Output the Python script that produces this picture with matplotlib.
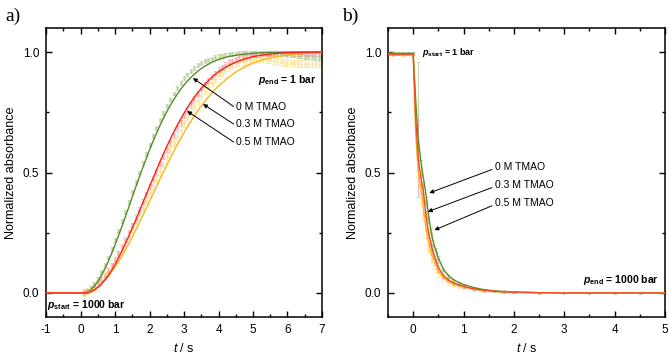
import numpy as np
import matplotlib
matplotlib.use("Agg")
import matplotlib.pyplot as plt
from matplotlib.ticker import MultipleLocator, FormatStrFormatter

plt.rcParams["font.family"] = ["Liberation Sans", "DejaVu Sans"]
plt.rcParams["axes.unicode_minus"] = False
plt.rcParams["mathtext.fontset"] = "custom"
plt.rcParams["mathtext.rm"] = "Liberation Sans"
plt.rcParams["mathtext.it"] = "Liberation Sans:italic"
plt.rcParams["mathtext.bf"] = "Liberation Sans:bold"
plt.rcParams["mathtext.bfit"] = "Liberation Sans:italic:bold"

# ---------------- panel a: 1000 bar -> 1 bar ----------------
t_data_a = np.round(np.arange(0.1, 7.05, 0.1), 2)

green_a = [0.002, 0.008, 0.02, 0.038, 0.06, 0.087, 0.115, 0.147, 0.182, 0.22,
           0.258, 0.297, 0.337, 0.378, 0.42, 0.46, 0.50, 0.54, 0.578, 0.615,
           0.65, 0.685, 0.717, 0.748, 0.776, 0.803, 0.828, 0.851, 0.872, 0.891,
           0.907, 0.922, 0.935, 0.946, 0.955, 0.962, 0.968, 0.973, 0.978, 0.982,
           0.985, 0.988, 0.99, 0.992, 0.994, 0.995, 0.996, 0.997, 0.997, 0.997,
           0.997, 0.996, 0.996, 0.995, 0.995, 0.994, 0.993, 0.992, 0.99, 0.989,
           0.987, 0.986, 0.984, 0.983, 0.981, 0.98, 0.979, 0.977, 0.976, 0.975]
red_a = [0.003, 0.008, 0.016, 0.027, 0.04, 0.055, 0.072, 0.092, 0.114, 0.138,
         0.164, 0.192, 0.221, 0.251, 0.282, 0.313, 0.345, 0.378, 0.41, 0.443,
         0.474, 0.505, 0.535, 0.565, 0.596, 0.626, 0.655, 0.683, 0.709, 0.735,
         0.76, 0.783, 0.806, 0.827, 0.847, 0.866, 0.883, 0.899, 0.913, 0.926,
         0.937, 0.947, 0.956, 0.963, 0.97, 0.975, 0.979, 0.983, 0.986, 0.988,
         0.99, 0.991, 0.992, 0.993, 0.994, 0.995, 0.995, 0.996, 0.996, 0.996,
         0.996, 0.995, 0.995, 0.994, 0.994, 0.993, 0.993, 0.992, 0.992, 0.991]
yellow_a = [0.002, 0.008, 0.016, 0.027, 0.04, 0.055, 0.072, 0.091, 0.112, 0.135,
            0.159, 0.184, 0.21, 0.237, 0.265, 0.294, 0.323, 0.353, 0.383, 0.413,
            0.444, 0.474, 0.505, 0.535, 0.565, 0.594, 0.623, 0.651, 0.678, 0.704,
            0.729, 0.753, 0.776, 0.798, 0.818, 0.838, 0.856, 0.873, 0.889, 0.903,
            0.915, 0.926, 0.936, 0.944, 0.951, 0.957, 0.962, 0.966, 0.969, 0.971,
            0.972, 0.972, 0.971, 0.969, 0.967, 0.965, 0.962, 0.96, 0.958, 0.956,
            0.955, 0.954, 0.953, 0.952, 0.952, 0.951, 0.951, 0.95, 0.95, 0.95]
err_green_a = 0.008
err_red_a = 0.01
err_yellow_a = 0.014

t_fit_a = np.concatenate([[-1.0, 0.0], np.round(np.arange(0.1, 4.05, 0.1), 2),
                          np.arange(4.25, 7.01, 0.25)])
green_fit_a = [0, 0, 0, 0.004, 0.013, 0.028, 0.047, 0.071, 0.098, 0.129, 0.163, 0.199,
               0.237, 0.276, 0.316, 0.357, 0.398, 0.439, 0.479, 0.518, 0.556, 0.593,
               0.629, 0.662, 0.694, 0.724, 0.752, 0.778, 0.802, 0.824, 0.845, 0.863,
               0.880, 0.895, 0.908, 0.921, 0.931, 0.941, 0.949, 0.957, 0.963, 0.969,
               0.980, 0.987, 0.992, 0.995, 0.997, 0.998, 0.999, 0.9995, 1.0, 1.0, 1.0, 1.0]
red_fit_a = [0, 0, 0, 0.001, 0.005, 0.012, 0.023, 0.036, 0.053, 0.072, 0.094, 0.118,
             0.145, 0.174, 0.204, 0.236, 0.269, 0.302, 0.337, 0.372, 0.407, 0.442,
             0.476, 0.510, 0.544, 0.576, 0.608, 0.638, 0.667, 0.695, 0.721, 0.746,
             0.770, 0.792, 0.813, 0.832, 0.849, 0.865, 0.880, 0.894, 0.906, 0.918,
             0.941, 0.958, 0.971, 0.981, 0.987, 0.992, 0.995, 0.997, 0.998, 0.999, 0.999, 1.0]
yellow_fit_a = [0, 0, 0, 0.003, 0.008, 0.015, 0.025, 0.037, 0.052, 0.068, 0.087, 0.107,
                0.129, 0.153, 0.178, 0.205, 0.232, 0.261, 0.290, 0.320, 0.350, 0.380,
                0.411, 0.441, 0.471, 0.501, 0.530, 0.559, 0.587, 0.614, 0.640, 0.665,
                0.690, 0.713, 0.735, 0.756, 0.776, 0.795, 0.813, 0.829, 0.845, 0.859,
                0.891, 0.917, 0.938, 0.954, 0.967, 0.976, 0.983, 0.988, 0.992, 0.994, 0.996, 0.998]

# ---------------- panel b: 1 bar -> 1000 bar ----------------
t_data_b = [-0.5, -0.4, -0.3, -0.2, -0.1, 0.0, 0.1, 0.15, 0.2, 0.25, 0.3, 0.35, 0.4,
            0.45, 0.5, 0.6, 0.7, 0.8, 0.9, 1.0, 1.2, 1.4, 1.6, 1.8, 2.0, 2.5, 3.0,
            3.5, 4.0, 4.5, 5.0]
green_b = [0.997, 0.996, 0.997, 0.996, 0.997, 0.996, 0.72, 0.50, 0.44, 0.38, 0.31,
           0.25, 0.20, 0.17, 0.14, 0.095, 0.07, 0.053, 0.042, 0.034, 0.022, 0.014,
           0.009, 0.006, 0.004, 0.001, 0, 0, 0, 0, 0]
red_b = [0.993, 0.992, 0.993, 0.992, 0.993, 0.992, 0.55, 0.45, 0.39, 0.32, 0.25,
         0.20, 0.16, 0.13, 0.10, 0.07, 0.052, 0.04, 0.032, 0.026, 0.016, 0.01,
         0.006, 0.004, 0.003, 0.001, 0, 0, 0, 0, 0]
yellow_b = [0.99, 0.989, 0.99, 0.989, 0.99, 0.99, 0.62, 0.42, 0.33, 0.26, 0.20,
            0.16, 0.13, 0.105, 0.085, 0.06, 0.045, 0.035, 0.028, 0.022, 0.014,
            0.009, 0.006, 0.004, 0.002, 0.001, 0, 0, 0, 0, 0]
err_green_b = [0.004, 0.004, 0.004, 0.004, 0.004, 0.006, 0.24, 0.05, 0.02, 0.02, 0.02,
               0.02, 0.02, 0.015, 0.015, 0.01, 0.008, 0.006, 0.005, 0.005, 0.004,
               0.004, 0.003, 0.003, 0.003, 0.002, 0.002, 0.002, 0.002, 0.002, 0.002]
err_red_b = [0.004, 0.004, 0.004, 0.004, 0.004, 0.006, 0.15, 0.04, 0.02, 0.02, 0.02,
             0.02, 0.02, 0.015, 0.015, 0.01, 0.008, 0.006, 0.005, 0.005, 0.004,
             0.004, 0.003, 0.003, 0.003, 0.002, 0.002, 0.002, 0.002, 0.002, 0.002]
err_yellow_b = [0.004, 0.004, 0.004, 0.004, 0.004, 0.006, 0.18, 0.06, 0.03, 0.03, 0.03,
                0.03, 0.03, 0.02, 0.02, 0.012, 0.01, 0.008, 0.006, 0.006, 0.005,
                0.004, 0.003, 0.003, 0.003, 0.002, 0.002, 0.002, 0.002, 0.002, 0.002]

t_fit_b = [-0.5, 0.0, 0.05, 0.1, 0.15, 0.2, 0.25, 0.3, 0.35, 0.4, 0.5, 0.6, 0.7, 0.8,
           0.9, 1.0, 1.2, 1.4, 1.6, 1.8, 2.0, 2.5, 3.0, 5.0]
green_fit_b = [0.995, 0.995, 0.80, 0.64, 0.55, 0.48, 0.415, 0.33, 0.26, 0.21, 0.145,
               0.098, 0.072, 0.055, 0.044, 0.035, 0.022, 0.014, 0.009, 0.006, 0.004,
               0.001, 0.0, 0.0]
red_fit_b = [0.99, 0.99, 0.72, 0.56, 0.48, 0.425, 0.33, 0.255, 0.205, 0.165, 0.105,
             0.072, 0.054, 0.042, 0.034, 0.027, 0.017, 0.011, 0.007, 0.004, 0.003,
             0.001, 0.0, 0.0]
yellow_fit_b = [0.99, 0.99, 0.66, 0.50, 0.44, 0.36, 0.27, 0.215, 0.17, 0.14, 0.09,
                0.063, 0.047, 0.037, 0.03, 0.024, 0.015, 0.01, 0.006, 0.004, 0.002,
                0.001, 0.0, 0.0]

labels = ["0 M TMAO", "0.3 M TMAO", "0.5 M TMAO"]

GREEN, RED, YELLOW = "#5b8c2a", "#ff1f1f", "#ffb31a"
GREEN_D, RED_D, YELLOW_D = "#a9c78c", "#f59a9c", "#ffdc70"
RED_B = "#f2492a"


def style_axes(ax, xmin, xmax):
    ax.set_xlim(xmin, xmax)
    ax.set_ylim(-0.1, 1.1)
    ax.xaxis.set_major_locator(MultipleLocator(1))
    ax.xaxis.set_minor_locator(MultipleLocator(0.5))
    ax.yaxis.set_major_locator(MultipleLocator(0.5))
    ax.yaxis.set_minor_locator(MultipleLocator(0.25))
    ax.yaxis.set_major_formatter(FormatStrFormatter("%.1f"))
    ax.tick_params(which="both", direction="in", top=True, right=True, width=1.0,
                   labelsize=8.5, pad=5)
    ax.tick_params(which="major", length=4)
    ax.tick_params(which="minor", length=2)
    for sp in ax.spines.values():
        sp.set_linewidth(1.1)
    ax.set_xlabel(r"$\mathit{t}$ / s", fontsize=9, labelpad=4)
    ax.set_ylabel("Normalized absorbance", fontsize=9, labelpad=4)


def draw_data(ax, t, y, err, color):
    ax.errorbar(t, y, yerr=err, fmt="s", ms=1.7, mfc="none", mec=color, mew=0.5,
                ecolor=color, elinewidth=0.6, capsize=1.6, capthick=0.6, alpha=0.8,
                zorder=2)


def arrow_label(ax, text, tip, pos):
    ax.annotate(text, xy=tip, xytext=pos, ha="left", va="center", fontsize=7.5,
                arrowprops=dict(arrowstyle="-|>", color="black", lw=0.7,
                                mutation_scale=6, shrinkA=0, shrinkB=0,
                                relpos=(0, 0.35)), zorder=5)


fig = plt.figure(figsize=(6.69, 3.57), dpi=100)
ax_a = fig.add_axes([0.0688, 0.112, 0.4125, 0.8096])
ax_b = fig.add_axes([0.580, 0.112, 0.414, 0.8096])

# panel a
draw_data(ax_a, t_data_a, yellow_a, err_yellow_a, YELLOW_D)
draw_data(ax_a, t_data_a, red_a, err_red_a, RED_D)
draw_data(ax_a, t_data_a, green_a, err_green_a, GREEN_D)
ax_a.plot(t_fit_a, green_fit_a, color=GREEN, lw=1.0, zorder=3)
ax_a.plot(t_fit_a, yellow_fit_a, color=YELLOW, lw=1.0, zorder=3)
ax_a.plot(t_fit_a, red_fit_a, color=RED, lw=1.0, zorder=4)
style_axes(ax_a, -1, 7)

arrow_label(ax_a, labels[0], (3.26, 0.892), (4.52, 0.772))
arrow_label(ax_a, labels[1], (3.55, 0.784), (4.52, 0.700))
arrow_label(ax_a, labels[2], (3.09, 0.755), (4.52, 0.625))
ax_a.text(5.15, 0.884, r"$\mathbfit{p}_{\mathbf{end}}$ = 1 bar", fontsize=7.5,
          fontweight="bold", va="center", ha="left")
ax_a.text(-0.97, -0.05, r"$\mathbfit{p}_{\mathbf{start}}$ = 1000 bar", fontsize=7.5,
          fontweight="bold", va="center", ha="left")

# panel b
draw_data(ax_b, t_data_b, yellow_b, err_yellow_b, YELLOW_D)
draw_data(ax_b, t_data_b, red_b, err_red_b, RED_D)
draw_data(ax_b, t_data_b, green_b, err_green_b, GREEN_D)
ax_b.plot(t_fit_b, green_fit_b, color=GREEN, lw=1.0, zorder=3)
ax_b.plot(t_fit_b, yellow_fit_b, color=YELLOW, lw=1.0, zorder=3)
ax_b.plot(t_fit_b, red_fit_b, color=RED_B, lw=1.0, zorder=4)
style_axes(ax_b, -0.5, 5)

arrow_label(ax_b, labels[0], (0.32, 0.415), (1.62, 0.523))
arrow_label(ax_b, labels[1], (0.29, 0.337), (1.62, 0.448))
arrow_label(ax_b, labels[2], (0.42, 0.261), (1.62, 0.373))
ax_b.text(0.18, 1.0, r"$\mathbfit{p}_{\mathbf{start}}$ = 1 bar", fontsize=6.5,
          fontweight="bold", va="center", ha="left")
ax_b.text(3.38, 0.054, r"$\mathbfit{p}_{\mathbf{end}}$ = 1000 bar", fontsize=7.5,
          fontweight="bold", va="center", ha="left")

fig.text(0.008, 0.955, "a)", fontsize=14, family="Liberation Serif", va="center")
fig.text(0.512, 0.955, "b)", fontsize=14, family="Liberation Serif", va="center")

fig.savefig("out.png", dpi=100)
